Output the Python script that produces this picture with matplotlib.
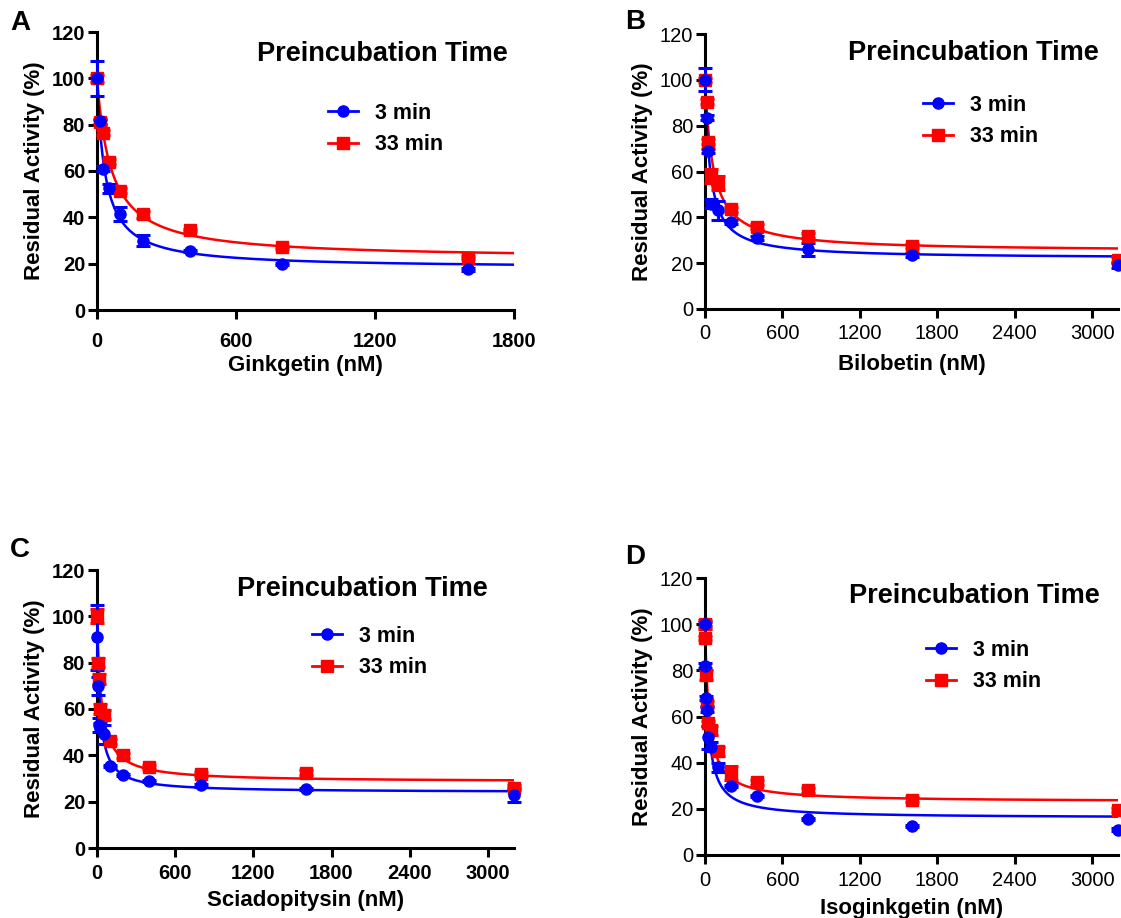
import matplotlib
matplotlib.use("Agg")
import matplotlib.pyplot as plt
from matplotlib.lines import Line2D
import numpy as np

plt.rcParams["font.family"] = ["Liberation Sans", "DejaVu Sans"]

# Panel A - Ginkgetin
A_conc = [0, 12.5, 25, 50, 100, 200, 400, 800, 1600]
A_3min = [100, 81.5, 61, 52.5, 41.5, 30, 25.5, 20, 17.5]
A_3min_err = [7.5, 1, 1, 2, 3, 2.5, 0.5, 0.5, 0.5]
A_33min = [100, 81, 76.5, 64, 51.5, 41.3, 34.5, 27, 22.6]
A_33min_err = [1.5, 1, 1, 1, 1, 1.5, 0.5, 0.5, 0.5]

# Panel B - Bilobetin
B_conc = [0, 12.5, 25, 50, 100, 200, 400, 800, 1600, 3200]
B_3min = [100, 83.5, 69, 46, 43, 38, 31, 26, 23.5, 19]
B_3min_err = [5, 1, 1, 2, 4, 1, 1, 3, 1, 1]
B_33min = [100, 90.5, 73, 58, 55, 43.5, 36, 32, 27.5, 21.5]
B_33min_err = [1, 1, 1, 3, 3, 1, 1, 1, 1, 1]

# Panel C - Sciadopitysin
C_conc = [0, 6.25, 12.5, 25, 50, 100, 200, 400, 800, 1600, 3200]
C_3min = [91, 70, 53, 52, 49, 35.5, 31.5, 29, 27, 25.5, 23]
C_3min_err = [14, 4, 3, 2, 4, 0.5, 0.5, 0.5, 0.5, 0.5, 3]
C_33min = [100, 80, 73, 60, 57.5, 46, 40, 35, 32, 32.5, 26]
C_33min_err = [3, 2, 2, 2, 2, 1, 1, 1, 1, 1, 1]

# Panel D - Isoginkgetin
D_conc = [0, 3.125, 6.25, 12.5, 25, 50, 100, 200, 400, 800, 1600, 3200]
D_3min = [100, 82, 68, 63, 51, 47, 38, 30, 25.5, 15.5, 12.5, 11]
D_3min_err = [1, 1, 1, 1, 5, 2, 2, 0.5, 0.5, 0.5, 0.5, 0.5]
D_33min = [100, 94, 78, 65.5, 57, 54, 45, 35.5, 31.5, 28, 24, 19.5]
D_33min_err = [2, 1, 2, 1, 1, 2, 2, 3, 1, 1, 1, 1]

# fitted curve parameters (top, bottom, IC50)
A_fit = {"3 min": (100, 18, 35), "33 min": (100, 22, 61)}
B_fit = {"3 min": (100, 22, 40), "33 min": (100, 25, 61.5)}
C_fit = {"3 min": (100, 24, 22), "33 min": (100, 28.5, 33)}
D_fit = {"3 min": (100, 16, 25), "33 min": (100, 23, 31)}

BLUE = "#0000ff"
RED = "#ff0000"
W, H = 1121, 918


def px(x0, y0, x1, y1):
    # pixel box -> figure fraction [left, bottom, width, height]
    return [x0 / W, 1 - y1 / H, (x1 - x0) / W, (y1 - y0) / H]


def panel(fig, box, conc, y3, e3, y33, e33, fit, xmax, xlabel, letter, letter_xy,
          title_xy, leg_xy, bold_ticks, xpad, xlpad):
    ax = fig.add_axes(px(*box))
    xs = np.linspace(0, xmax, 2000)
    for name, y, e, col, mk in [("33 min", y33, e33, RED, "s"), ("3 min", y3, e3, BLUE, "o")]:
        top, bot, ic50 = fit[name]
        ax.plot(xs, bot + (top - bot) / (1 + xs / ic50), color=col, lw=1.8, zorder=2)
        ax.errorbar(conc, y, yerr=e, fmt="none", ecolor=col, elinewidth=2.2,
                    capsize=5, capthick=2.2, zorder=3, clip_on=False)
        ax.plot(conc, y, mk, color=col, ms=8, zorder=4, clip_on=False)
    ax.set_xlim(0, xmax)
    ax.set_ylim(0, 120)
    ax.set_xticks(np.arange(0, xmax + 1, 600))
    ax.set_yticks(np.arange(0, 121, 20))
    for s in ["top", "right"]:
        ax.spines[s].set_visible(False)
    for s in ["left", "bottom"]:
        ax.spines[s].set_linewidth(2.2)
    ax.tick_params(width=2.2, length=6.5, labelsize=14.5)
    ax.tick_params(axis="x", pad=xpad)
    ax.tick_params(axis="y", pad=2)
    wt = "bold" if bold_ticks else "normal"
    for t in ax.get_xticklabels() + ax.get_yticklabels():
        t.set_fontweight(wt)
    ax.set_xlabel(xlabel, fontsize=16, fontweight="bold", labelpad=xlpad)
    ax.set_ylabel("Residual Activity (%)", fontsize=16, fontweight="bold", labelpad=5)

    fig.text(letter_xy[0] / W, 1 - letter_xy[1] / H, letter, fontsize=20,
             fontweight="bold", ha="center", va="center")
    fig.text(title_xy[0] / W, 1 - title_xy[1] / H, "Preincubation Time",
             fontsize=19.5, fontweight="bold", ha="center", va="center")
    lh = [Line2D([], [], color=BLUE, marker="o", ms=8, lw=2),
          Line2D([], [], color=RED, marker="s", ms=8, lw=2)]
    ax.legend(lh, ["3 min", "33 min"], loc="center left",
              bbox_to_anchor=(leg_xy[0] / W, 1 - leg_xy[1] / H),
              bbox_transform=fig.transFigure, frameon=False, borderpad=0,
              borderaxespad=0, handlelength=1.4, handletextpad=0.8,
              labelspacing=0.5, prop={"weight": "bold", "size": 15.5})
    return ax


fig = plt.figure(figsize=(W / 100, H / 100), dpi=100)

panel(fig, (97, 32, 514, 310), A_conc, A_3min, A_3min_err, A_33min, A_33min_err,
      A_fit, 1800, "Ginkgetin (nM)", "A", (20, 23), (382, 54), (328, 129), True, 9, 3)
panel(fig, (705, 34, 1118, 309), B_conc, B_3min, B_3min_err, B_33min, B_33min_err,
      B_fit, 3200, "Bilobetin (nM)", "B", (635, 22), (973, 53), (923, 121), False, 4, 8)
panel(fig, (97, 570, 514, 848), C_conc, C_3min, C_3min_err, C_33min, C_33min_err,
      C_fit, 3200, "Sciadopitysin (nM)", "C", (20, 550), (362, 589), (312, 652), True, 5, 5)
panel(fig, (705, 578, 1118, 855), D_conc, D_3min, D_3min_err, D_33min, D_33min_err,
      D_fit, 3200, "Isoginkgetin (nM)", "D", (635, 557), (974, 596), (926, 666), False, 5, 6)

fig.savefig("out.png", dpi=100)
